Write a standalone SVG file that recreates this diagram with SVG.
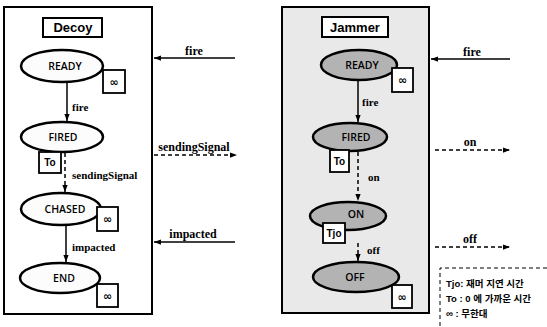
<svg xmlns="http://www.w3.org/2000/svg" width="547" height="327" viewBox="0 0 547 327">
<defs>
<marker id="ah" viewBox="0 0 8 6" refX="8" refY="3" markerWidth="7" markerHeight="6" markerUnits="userSpaceOnUse" orient="auto"><path d="M0,0 L8,3 L0,6 z" fill="#000"/></marker>
</defs>
<style>
.frame{fill:#fff;stroke:#000;stroke-width:2}
.jframe{fill:#e9e9e9;stroke:#000;stroke-width:2}
.title{fill:#fff;stroke:#000;stroke-width:2}
.st{fill:#fcfcfc;stroke:#000;stroke-width:2.5}
.jst{fill:#b3b3b3;stroke:#000;stroke-width:2.5}
.tb{fill:#fff;stroke:#000;stroke-width:1.8}
.tt{font-family:"Liberation Sans",Arial,sans-serif;font-weight:bold;font-size:13px;text-anchor:middle}
.sn{font-family:"Open Sans","Liberation Sans",Arial,sans-serif;font-weight:600;font-size:10.5px;text-anchor:middle;fill:#000}
.bx{font-family:"Liberation Sans",Arial,sans-serif;font-weight:bold;font-size:10px;text-anchor:middle}
.inf{font-family:"DejaVu Sans",sans-serif;font-weight:bold;font-size:11px;text-anchor:middle}
.lbl{font-family:"Liberation Serif","Times New Roman",serif;font-weight:bold;font-size:11px}
.elbl{font-family:"Liberation Serif","Times New Roman",serif;font-weight:bold;font-size:12px;text-anchor:middle}
.ln{stroke:#000;stroke-width:1.5;fill:none}
.dash{stroke-dasharray:4 3}
.leg{font-family:"Liberation Sans","Noto Sans CJK KR",sans-serif;font-weight:bold;font-size:9.5px}
</style>

<g id="decoy-frame">
<rect class="frame" x="4" y="7" width="148" height="307"/>
<rect class="title" x="43" y="18" width="59" height="19"/>
<text class="tt" x="73" y="32">Decoy</text>
</g>

<g id="jammer-frame">
<rect class="jframe" x="282" y="7" width="147" height="306"/>
<rect class="title" x="322" y="17" width="66" height="20"/>
<text class="tt" x="355" y="32">Jammer</text>
</g>

<g id="connectors">
<line class="ln" x1="67" y1="82" x2="67" y2="121" marker-end="url(#ah)"/>
<line class="ln dash" x1="65" y1="153" x2="65" y2="192" marker-end="url(#ah)"/>
<line class="ln" x1="66" y1="225" x2="66" y2="262" marker-end="url(#ah)"/>
<line class="ln" x1="358" y1="80" x2="358" y2="122" marker-end="url(#ah)"/>
<line class="ln dash" x1="358" y1="152" x2="358" y2="201" marker-end="url(#ah)"/>
<line class="ln dash" x1="358" y1="243" x2="358" y2="261" marker-end="url(#ah)"/>
<line class="ln" x1="235" y1="58" x2="154" y2="58" marker-end="url(#ah)"/>
<line class="ln dash" x1="154" y1="155" x2="237" y2="155" marker-end="url(#ah)"/>
<line class="ln" x1="235" y1="242" x2="154" y2="242" marker-end="url(#ah)"/>
<line class="ln" x1="510" y1="59" x2="431" y2="59" marker-end="url(#ah)"/>
<line class="ln dash" x1="435" y1="150" x2="510" y2="150" marker-end="url(#ah)"/>
<line class="ln dash" x1="435" y1="247" x2="510" y2="247" marker-end="url(#ah)"/>
<text class="lbl" x="72" y="111">fire</text>
<text class="lbl" x="72" y="179">sendingSignal</text>
<text class="lbl" x="72" y="251">impacted</text>
<text class="lbl" x="362" y="106">fire</text>
<text class="lbl" x="368" y="181">on</text>
<text class="lbl" x="367" y="254">off</text>
<text class="elbl" x="194" y="55">fire</text>
<text class="elbl" x="194" y="151">sendingSignal</text>
<text class="elbl" x="193" y="238">impacted</text>
<text class="elbl" x="472" y="56">fire</text>
<text class="elbl" x="470" y="146">on</text>
<text class="elbl" x="470" y="243">off</text>
</g>

<g id="decoy-ready">
<ellipse class="st" cx="62" cy="66" rx="41" ry="16"/>
<text class="sn" x="65" y="70">READY</text>
<rect class="tb" x="103" y="70" width="22" height="23"/>
<text class="inf" x="114" y="86">∞</text>
</g>
<g id="decoy-fired">
<ellipse class="st" cx="62" cy="137" rx="41" ry="15"/>
<text class="sn" x="63" y="141">FIRED</text>
<rect class="tb" x="39" y="152" width="22" height="21"/>
<text class="bx" x="50" y="166">To</text>
</g>
<g id="decoy-chased">
<ellipse class="st" cx="61" cy="209" rx="40" ry="16"/>
<text class="sn" x="65" y="213">CHASED</text>
<rect class="tb" x="97" y="207" width="21" height="24"/>
<text class="inf" x="107.5" y="223">∞</text>
</g>
<g id="decoy-end">
<ellipse class="st" cx="60" cy="278" rx="40" ry="15"/>
<text class="sn" x="64" y="282">END</text>
<rect class="tb" x="97" y="284" width="21" height="23"/>
<text class="inf" x="107.5" y="300">∞</text>
</g>

<g id="jammer-ready">
<ellipse class="jst" cx="359" cy="65" rx="38" ry="15"/>
<text class="sn" x="362" y="69">READY</text>
<rect class="tb" x="392" y="68" width="21" height="24"/>
<text class="inf" x="402.5" y="84">∞</text>
</g>
<g id="jammer-fired">
<ellipse class="jst" cx="350" cy="137" rx="37" ry="14"/>
<text class="sn" x="356" y="141">FIRED</text>
<rect class="tb" x="330" y="150" width="19" height="22"/>
<text class="bx" x="339.5" y="165">To</text>
</g>
<g id="jammer-on">
<ellipse class="jst" cx="348" cy="216" rx="38" ry="14"/>
<text class="sn" x="356" y="218">ON</text>
<rect class="tb" x="323" y="223" width="22" height="20"/>
<text class="bx" x="334" y="237">Tjo</text>
</g>
<g id="jammer-off">
<ellipse class="jst" cx="356" cy="277" rx="43" ry="15"/>
<text class="sn" x="355" y="281">OFF</text>
<rect class="tb" x="392" y="285" width="20" height="23"/>
<text class="inf" x="402" y="301">∞</text>
</g>

<g id="legend">
<path class="ln dash" d="M440,326 V268 H547" style="stroke-width:1"/>
<text class="leg" x="446" y="287">Tjo: 재머 지연 시간</text>
<text class="leg" x="446" y="302">To : 0 에 가까운 시간</text>
<text class="leg" x="446" y="317">∞ : 무한대</text>
</g>
</svg>
